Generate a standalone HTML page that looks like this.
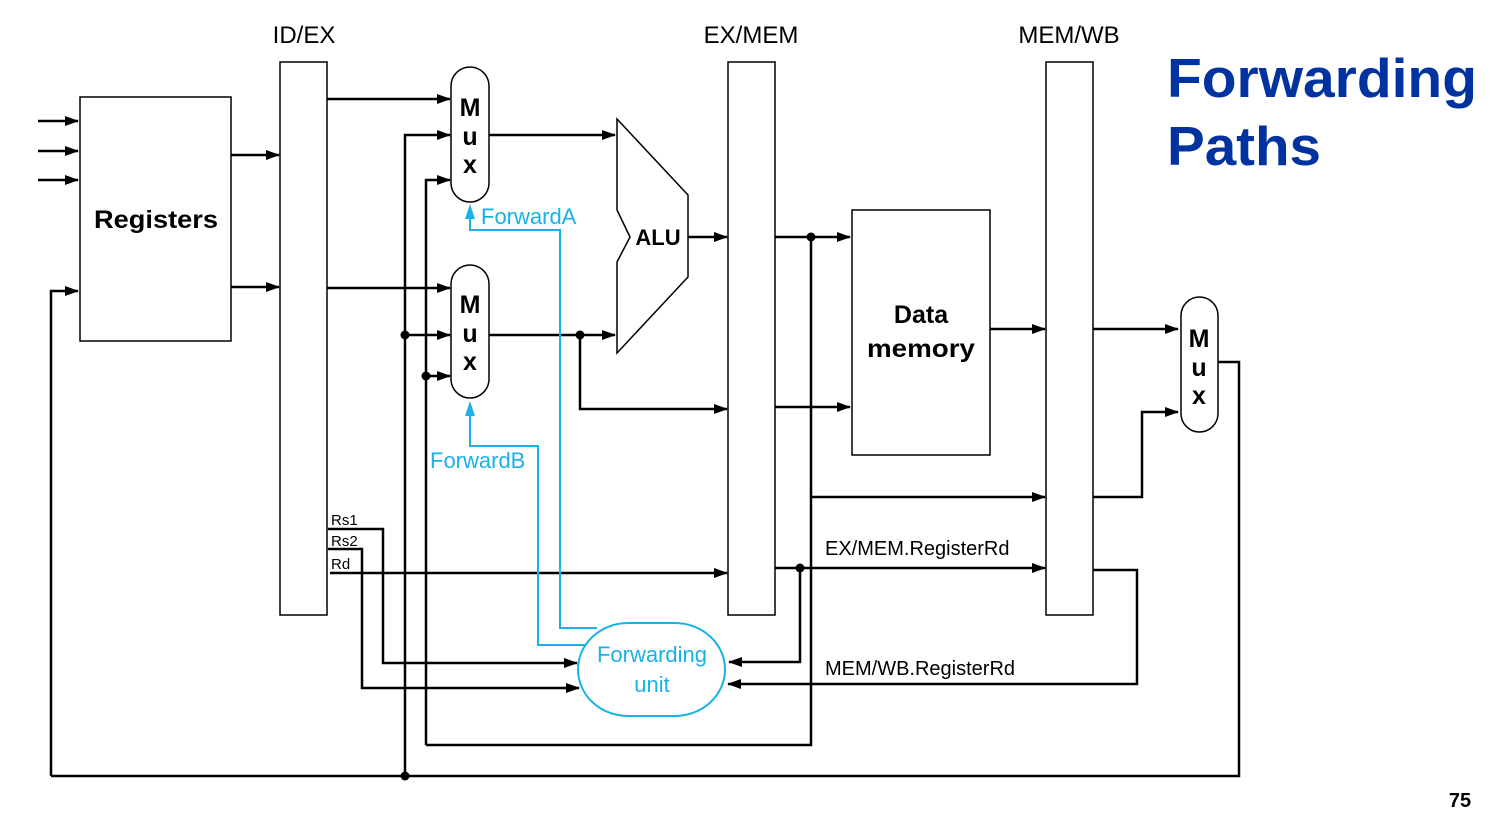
<!DOCTYPE html>
<html><head><meta charset="utf-8"><style>
html,body{margin:0;padding:0;background:#fff;}
svg{display:block;font-family:"Liberation Sans",Arial,sans-serif;}
</style></head><body>
<svg width="1494" height="823" viewBox="0 0 1494 823" xmlns="http://www.w3.org/2000/svg">
<defs>
<marker id="a" markerWidth="14" markerHeight="10" refX="13" refY="5" orient="auto" markerUnits="userSpaceOnUse"><path d="M0,0 L14,5 L0,10 z" fill="#000"/></marker>
</defs>
<text x="1167" y="97" font-size="55" font-weight="bold" fill="#0033a0" textLength="310" lengthAdjust="spacingAndGlyphs">Forwarding</text>
<text x="1167" y="165" font-size="55" font-weight="bold" fill="#0033a0" textLength="154" lengthAdjust="spacingAndGlyphs">Paths</text>
<text x="1460" y="807" font-size="20" font-weight="bold" text-anchor="middle">75</text>
<g font-size="24" text-anchor="middle">
<text x="304" y="43">ID/EX</text>
<text x="751" y="43">EX/MEM</text>
<text x="1069" y="43">MEM/WB</text>
</g>
<g fill="none" stroke="#000" stroke-width="1.5">
<rect x="280" y="62" width="47" height="553"/>
<rect x="728" y="62" width="47" height="553"/>
<rect x="1046" y="62" width="47" height="553"/>
<rect x="80" y="97" width="151" height="244"/>
<rect x="852" y="210" width="138" height="245"/>
<rect x="451" y="67" width="38" height="135" rx="19"/>
<rect x="451" y="265" width="38" height="133" rx="19"/>
<rect x="1181" y="297" width="37" height="135" rx="18.5"/>
<path d="M617,119 L688,195 L688,277 L617,353 L617,262 L630,237 L617,210 Z"/>
</g>
<g font-weight="bold" text-anchor="middle">
<text x="156" y="228" font-size="25" textLength="124" lengthAdjust="spacingAndGlyphs">Registers</text>
<text x="921" y="323" font-size="25">Data</text>
<text x="921" y="357" font-size="25" textLength="108" lengthAdjust="spacingAndGlyphs">memory</text>
<text x="658" y="245" font-size="22">ALU</text>
<g font-size="25"><text x="470" y="116">M</text><text x="470" y="145">u</text><text x="470" y="173">x</text>
<text x="470" y="313">M</text><text x="470" y="342">u</text><text x="470" y="370">x</text>
<text x="1199" y="347">M</text><text x="1199" y="376">u</text><text x="1199" y="404">x</text></g>
</g>
<g fill="none" stroke="#000" stroke-width="2.5" marker-end="url(#a)">
<path d="M38,121 H78"/><path d="M38,151 H78"/><path d="M38,180 H78"/>
<path d="M51,776 V291 H78"/>
<path d="M231,155 H279"/><path d="M231,287 H279"/>
<path d="M327,99 H450"/><path d="M405,776 V135 H450"/><path d="M426,745 V180 H450"/>
<path d="M327,288 H450"/><path d="M405,335 H450"/><path d="M426,376 H450"/>
<path d="M489,135 H615"/><path d="M489,335 H615"/>
<path d="M580,335 V409 H727"/>
<path d="M688,237 H727"/>
<path d="M775,237 H850"/><path d="M775,407 H850"/>
<path d="M990,329 H1045"/>
<path d="M1093,329 H1178"/>
<path d="M811,497 H1045"/>
<path d="M1093,497 H1142 V412 H1178"/>
<path d="M330,573 H727"/>
<path d="M775,568 H1045"/>
<path d="M800,568 V662 H729"/>
<path d="M1093,570 H1137 V684 H728"/>
<path d="M328,529 H383 V663 H577"/>
<path d="M328,549 H362 V688 H579"/>
</g>
<g fill="none" stroke="#000" stroke-width="2.5">
<path d="M51,776 H1239 V362 H1218"/>
<path d="M426,745 H811 V237"/>
</g>
<g fill="#000">
<circle cx="405" cy="335" r="4.5"/><circle cx="426" cy="376" r="4.5"/>
<circle cx="580" cy="335" r="4.5"/><circle cx="811" cy="237" r="4.5"/>
<circle cx="800" cy="568" r="4.5"/><circle cx="405" cy="776" r="4.5"/>
</g>
<g font-size="15"><text x="331" y="525">Rs1</text><text x="331" y="546">Rs2</text><text x="331" y="569">Rd</text></g>
<g font-size="20"><text x="825" y="555">EX/MEM.RegisterRd</text><text x="825" y="675">MEM/WB.RegisterRd</text></g>
<g fill="none" stroke="#1ab0e8" stroke-width="2">
<rect x="578" y="623" width="147" height="93" rx="50"/>
<path d="M597,628 H560 V230 H470 V210"/>
<path d="M585,645 H538 V446 H470 V410"/>
</g>
<g fill="#1ab0e8">
<path d="M470,204 L465,219 L475,219 Z"/><path d="M470,401 L465,416 L475,416 Z"/>
</g>
<g fill="#1ab0e8" font-size="22">
<text x="481" y="224">ForwardA</text>
<text x="430" y="468">ForwardB</text>
<text x="652" y="662" text-anchor="middle">Forwarding</text>
<text x="652" y="692" text-anchor="middle">unit</text>
</g>
</svg>
</body></html>
